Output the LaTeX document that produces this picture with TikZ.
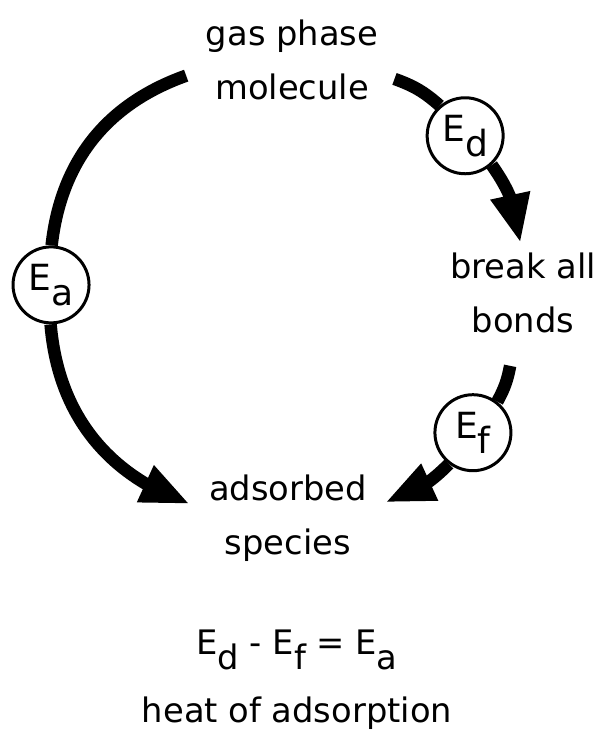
\documentclass[tikz,border=0pt]{standalone}
\usepackage{fontspec}
\setmainfont{DejaVu Sans}
\usetikzlibrary{arrows.meta,bending}

\newcommand{\Esub}[1]{E\raisebox{-0.42em}{#1}}

\begin{document}
\begin{tikzpicture}[
        flow/.style={draw, line width=0.25cm},
        head/.style={-{Triangle[length=0.98cm,width=0.74cm,flex]}},
        ecirc/.style={draw, circle, fill=white, line width=1.7pt, minimum size=1.52cm, inner sep=0pt, font=\fontsize{20.5}{30.7}\selectfont},
        lbl/.style={align=center, font=\fontsize{19.2}{30.7}\selectfont},
    ]
    \useasboundingbox (0,0) rectangle (12.04,14.68);
    \coordinate (c) at (5.74,8.90);
    % states
    \node[lbl] (mol) at (5.84,13.48) {gas phase\\molecule};
    \node[lbl] (bonds) at (10.46,8.83) {break all\\bonds};
    \node[lbl] (ads) at (5.76,4.31) {adsorbed\\species};
    % energies on the cycle
    \node[ecirc] (ea) at ([shift={(179:4.72)}]c) {\Esub{a}};
    \node[ecirc] (ed) at ([shift={(40.7:4.70)}]c) {\Esub{d}};
    \node[ecirc] (ef) at ([shift={(-37.7:4.70)}]c) {\Esub{f}};
    % arrow ends
    \coordinate (s1) at ([shift={(115.3:4.72)}]c);
    \coordinate (t1) at ([shift={(245.7:4.72)}]c);
    \coordinate (s2) at ([shift={(62.9:4.72)}]c);
    \coordinate (t2) at ([shift={(11.1:4.76)}]c);
    \coordinate (s3) at ([shift={(-19:4.72)}]c);
    \coordinate (t3) at ([shift={(-65.3:4.70)}]c);
    \draw[flow] (s1) to[bend right=32] (ea);
    \draw[flow, head] (ea) to[bend right=33] (t1);
    \draw[flow] (s2) to[bend left=11] (ed);
    \draw[flow, head] (ed) to[bend left=15] (t2);
    \draw[flow] (s3) to[bend left=9] (ef);
    \draw[flow, head] (ef) to[bend left=14] (t3);
    % result
    \node[lbl, anchor=base] (eq) at (5.94,1.58) {\Esub{d} - \Esub{f} = \Esub{a}};
    \node[lbl, anchor=base] (heat) at (5.94,0.24) {heat of adsorption};
\end{tikzpicture}
\end{document}
